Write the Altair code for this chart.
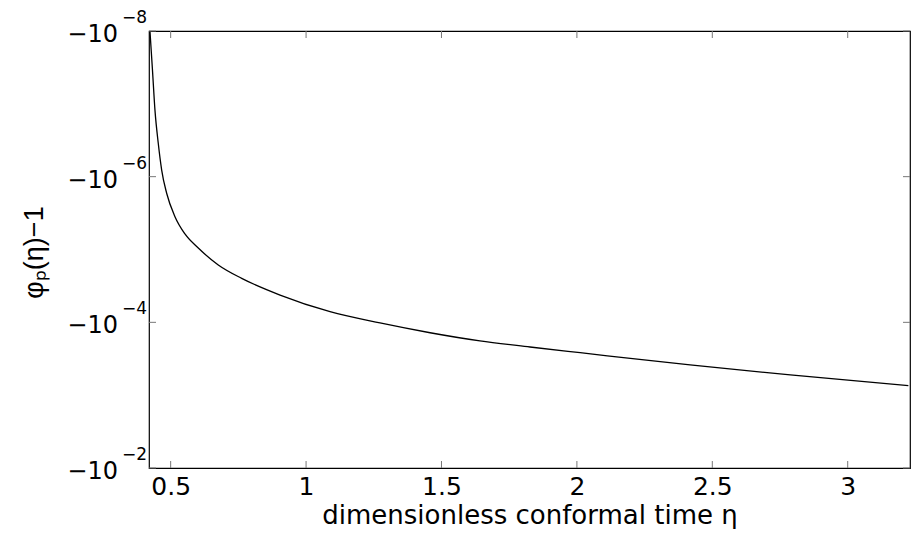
import altair as alt
import pandas as pd

# curve: conformal time eta and |phi_p(eta) - 1|
eta = [0.4235, 0.4328, 0.442, 0.4542, 0.4668, 0.4852, 0.5159, 0.5528, 0.602, 0.6758,
       0.7623, 0.904, 1.0885, 1.273, 1.458, 1.642, 1.827, 2.012, 2.418, 2.788, 3.224]
mag = [1.0e-8, 3.43e-8, 1.22e-7, 3.48e-7, 8.11e-7, 1.69e-6, 3.54e-6, 6.12e-6, 9.55e-6, 1.63e-5,
       2.49e-5, 4.22e-5, 7.14e-5, 1.02e-4, 1.39e-4, 1.80e-4, 2.18e-4, 2.61e-4, 3.85e-4, 5.28e-4, 7.41e-4]

x_ticks = [0.5, 1.0, 1.5, 2.0, 2.5, 3.0]
y_ticks = [1e-8, 1e-6, 1e-4, 1e-2]
y_base = ["\u221210", "\u221210", "\u221210", "\u221210"]
y_exp = ["\u22128", "\u22126", "\u22124", "\u22122"]

FONT = "DejaVu Sans"
TFONT = "Liberation Sans"
W, H = 761, 437

curve = pd.DataFrame({"eta": eta, "mag": mag})
xt = pd.DataFrame({"t": x_ticks})
yt = pd.DataFrame({"v": y_ticks, "base": y_base, "exp": y_exp})

xscale = alt.Scale(domain=[0.42, 3.23], nice=False, zero=False)
yscale = alt.Scale(type="log", domain=[1e-8, 1e-2], reverse=True, nice=False)

x_axis = alt.Axis(
    values=x_ticks, format="~g", ticks=False, domain=False, grid=False,
    labelFontSize=25, labelFont=FONT, labelColor="black", labelPadding=6,
    title="dimensionless conformal time \u03b7", titleFont=FONT, titleFontSize=26,
    titleFontWeight="normal", titleColor="black", titleY=55, titleBaseline="alphabetic")
y_axis = alt.Axis(
    labels=False, ticks=False, domain=False, grid=False,
    title="\u03c6\u209a(\u03b7)\u22121", titleFont=TFONT, titleFontSize=27,
    titleFontWeight="normal", titleColor="black", titleX=-107, titleY=221,
    titleBaseline="alphabetic")

line = alt.Chart(curve).mark_line(
    color="black", strokeWidth=1.3, clip=True, interpolate="monotone"
).encode(
    x=alt.X("eta:Q", scale=xscale, axis=x_axis),
    y=alt.Y("mag:Q", scale=yscale, axis=y_axis),
)

tick_color = "#777777"
xb = alt.Chart(xt).mark_rule(color=tick_color, strokeWidth=1).encode(
    x=alt.X("t:Q", scale=xscale, axis=x_axis), y=alt.value(H), y2=alt.value(H - 7))
xtop = alt.Chart(xt).mark_rule(color=tick_color, strokeWidth=1).encode(
    x=alt.X("t:Q", scale=xscale, axis=x_axis), y=alt.value(0), y2=alt.value(7))
yl = alt.Chart(yt).mark_rule(color=tick_color, strokeWidth=1).encode(
    y=alt.Y("v:Q", scale=yscale, axis=y_axis), x=alt.value(0), x2=alt.value(7))
yr = alt.Chart(yt).mark_rule(color=tick_color, strokeWidth=1).encode(
    y=alt.Y("v:Q", scale=yscale, axis=y_axis), x=alt.value(W), x2=alt.value(W - 7))

lab_base = alt.Chart(yt).mark_text(
    align="right", baseline="middle", font=FONT, fontSize=24, color="black", dy=4
).encode(y=alt.Y("v:Q", scale=yscale, axis=y_axis), x=alt.value(-31), text="base:N")
lab_exp = alt.Chart(yt).mark_text(
    align="right", baseline="middle", font=FONT, fontSize=17, color="black", dy=-13
).encode(y=alt.Y("v:Q", scale=yscale, axis=y_axis), x=alt.value(-2), text="exp:N")

chart = alt.layer(line, xb, xtop, yl, yr, lab_base, lab_exp).properties(
    width=W, height=H,
    autosize=alt.AutoSizeParams(type="none"),
    padding={"left": 141, "top": 23, "right": 4, "bottom": 61},
).configure_view(stroke="black", strokeWidth=1.2)

chart.save("out.html", embed_options={"renderer": "svg", "actions": False})
